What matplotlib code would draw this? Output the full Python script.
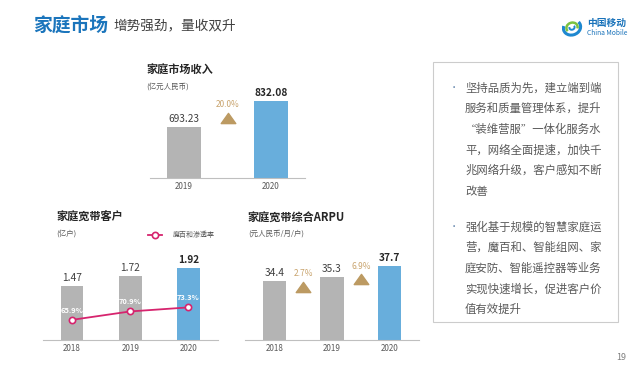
import matplotlib
matplotlib.use('Agg')
import matplotlib.pyplot as plt
from matplotlib.patches import Rectangle, Arc
from matplotlib.path import Path
from matplotlib.transforms import ScaledTranslation

plt.rcParams['font.family'] = ['Noto Sans CJK SC', 'DejaVu Sans']

# ---------------- data ----------------
rev_years = ['2019', '2020']
rev_values = [693.23, 832.08]
rev_labels = ['693.23', '832.08']
rev_growth = ['20.0%']

bb_years = ['2018', '2019', '2020']
bb_users = [1.47, 1.72, 1.92]
bb_user_labels = ['1.47', '1.72', '1.92']
mbh_rate = [65.9, 70.9, 73.3]
mbh_labels = ['65.9%', '70.9%', '73.3%']

arpu_years = ['2018', '2019', '2020']
arpu_values = [34.4, 35.3, 37.7]
arpu_labels = ['34.4', '35.3', '37.7']
arpu_growth = ['2.7%', '6.9%']

bullet1 = ['坚持品质为先，建立端到端',
           '服务和质量管理体系，提升',
           '“装维营服”一体化服务水',
           '平，网络全面提速，加快千',
           '兆网络升级，客户感知不断',
           '改善']
bullet2 = ['强化基于规模的智慧家庭运',
           '营，魔百和、智能组网、家',
           '庭安防、智能遥控器等业务',
           '实现快速增长，促进客户价',
           '值有效提升']

# ---------------- style ----------------
GRAY = '#B4B4B4'
BLUE = '#68AEDC'
GOLD = '#BC9A62'
GOLDTXT = '#C9A46E'
PINK = '#D6246E'
TXT = '#404040'
SUB = '#595959'
AXC = '#BFBFBF'
TITLE_BLUE = '#1B75BC'

W, H = 640, 370
fig = plt.figure(figsize=(6.4, 3.7), dpi=100)


def px_rect(x0, y0, x1, y1):
    return [x0 / W, 1 - y1 / H, (x1 - x0) / W, (y1 - y0) / H]


def ftext(x, y, s, **kw):
    kw.setdefault('va', 'center')
    fig.text(x / W, 1 - y / H, s, **kw)


def style_ax(ax, xlim, ylim, labels):
    ax.set_xlim(xlim)
    ax.set_ylim(ylim)
    for s in ['top', 'right', 'left']:
        ax.spines[s].set_visible(False)
    ax.spines['bottom'].set_color(AXC)
    ax.spines['bottom'].set_linewidth(0.8)
    ax.set_yticks([])
    ax.set_xticks(range(len(labels)), labels)
    ax.tick_params(axis='x', length=0, pad=3.0, labelsize=5.8, labelcolor=SUB)
    ax.patch.set_alpha(0)


def bar_colors(n):
    return [GRAY] * (n - 1) + [BLUE]


def value_labels(ax, values, labels):
    n = len(values)
    for i, (v, l) in enumerate(zip(values, labels)):
        last = i == n - 1
        ax.annotate(l, (i, v), xytext=(0, 8), textcoords='offset pixels',
                    ha='center', va='center', fontsize=7.3,
                    color='#262626' if last else TXT,
                    fontweight='bold' if last else 'normal')


tri = Path([(-1, -0.7), (1, -0.7), (0, 0.7), (-1, -0.7)],
           [Path.MOVETO, Path.LINETO, Path.LINETO, Path.CLOSEPOLY])


def growth_marks(ax, values, growth, tri_dy, lab_dy):
    for i, g in enumerate(growth):
        mid = (values[i] + values[i + 1]) / 2
        tr = ax.transData + ScaledTranslation(0, tri_dy / 100, fig.dpi_scale_trans)
        ax.plot([i + 0.5], [mid], marker=tri, ms=10.5, color=GOLD,
                linestyle='none', transform=tr, clip_on=False)
        ax.annotate(g, (i + 0.5, mid), xytext=(0, lab_dy), textcoords='offset pixels',
                    ha='center', va='center', fontsize=6, color=GOLDTXT)


# ---------------- header ----------------
ftext(33, 25.5, '家庭市场', fontsize=13.5, fontweight='bold', color=TITLE_BLUE)
ftext(113, 25.5, '增势强劲，量收双升', fontsize=9.8, color=TXT)

# logo
lax = fig.add_axes(px_rect(561, 17, 583, 38))
lax.set_xlim(-1.2, 1.2)
lax.set_ylim(-1.2, 1.2)
lax.set_aspect('equal')
lax.axis('off')
lax.add_patch(Arc((0, 0), 2.0, 1.7, angle=20, theta1=150, theta2=20, color='#1E88D0', lw=2.2))
lax.add_patch(Arc((0, 0), 1.3, 1.1, angle=20, theta1=330, theta2=200, color='#7CC242', lw=1.8))
lax.add_patch(Arc((0, 0), 0.6, 0.5, angle=20, theta1=150, theta2=20, color='#1E88D0', lw=1.4))
ftext(587, 23, '中国移动', fontsize=7, fontweight='bold', color='#1A73BA')
ftext(587, 33, 'China Mobile', fontsize=4.8, color='#1A73BA')

# ---------------- chart 1: household revenue ----------------
ftext(146.5, 70, '家庭市场收入', fontsize=8, fontweight='bold', color='#262626')
ftext(146.5, 87, '(亿元人民币)', fontsize=5.4, color=SUB)
ax1 = fig.add_axes(px_rect(150.1, 85, 305, 178))
style_ax(ax1, (-0.39, 1.39), (420, 917.6), rev_years)
ax1.bar(range(len(rev_values)), rev_values, width=0.39, color=bar_colors(len(rev_values)))
value_labels(ax1, rev_values, rev_labels)
growth_marks(ax1, rev_values, rev_growth, tri_dy=-4, lab_dy=9)

# ---------------- chart 2: broadband customers ----------------
ftext(56.5, 217.5, '家庭宽带客户', fontsize=8, fontweight='bold', color='#262626')
ftext(56.5, 234, '(亿户)', fontsize=5.4, color=SUB)
ax2 = fig.add_axes(px_rect(42.9, 250, 217.5, 340))
style_ax(ax2, (-0.5, 2.5), (0.142, 2.359), bb_years)
ax2.bar(range(len(bb_users)), bb_users, width=0.395, color=bar_colors(len(bb_users)))
value_labels(ax2, bb_users, bb_user_labels)
ax2t = ax2.twinx()
ax2t.set_ylim(53.93, 107.4)
ax2t.axis('off')
ax2t.plot(range(len(mbh_rate)), mbh_rate, color=PINK, lw=1.3, marker='o', ms=4.5,
          mfc='white', mec=PINK, mew=1.2, label='魔百和渗透率')
for i, (v, l) in enumerate(zip(mbh_rate, mbh_labels)):
    ax2t.annotate(l, (i, v), xytext=(0, 9.5), textcoords='offset pixels',
                  ha='center', va='center', fontsize=5.4, color='white', fontweight='bold')
leg = ax2t.legend(loc='center left', bbox_to_anchor=(148 / W, 1 - 235 / H),
                  bbox_transform=fig.transFigure, frameon=False, fontsize=5,
                  handlelength=2.0, handletextpad=1.6, borderpad=0, borderaxespad=0)
for t in leg.get_texts():
    t.set_color(SUB)

# ---------------- chart 3: ARPU ----------------
ftext(248, 218, '家庭宽带综合ARPU', fontsize=8, fontweight='bold', color='#262626')
ftext(248, 234, '(元人民币/月/户)', fontsize=5.4, color=SUB)
ax3 = fig.add_axes(px_rect(245.3, 250, 418.7, 340))
style_ax(ax3, (-0.5, 2.5), (20.915, 41.35), arpu_years)
ax3.bar(range(len(arpu_values)), arpu_values, width=0.4, color=bar_colors(len(arpu_values)))
value_labels(ax3, arpu_values, arpu_labels)
growth_marks(ax3, arpu_values, arpu_growth, tri_dy=-8, lab_dy=5)

# ---------------- text box ----------------
fig.patches.append(Rectangle((433 / W, 1 - 322 / H), (618 - 433) / W, (322 - 62) / H,
                             transform=fig.transFigure, fill=False, ec='#CCCCCC', lw=0.8))
step = 20.7
for block, y0 in ((bullet1, 87.7), (bullet2, 226.7)):
    ftext(454, y0, '•', fontsize=6, color='#5B7FA8', ha='center')
    for k, line in enumerate(block):
        ftext(465, y0 + k * step, line, fontsize=8.2, color=SUB)

# page number
ftext(621, 357, '19', fontsize=6.5, color='#7F7F7F', ha='center')

fig.savefig('out.png', dpi=100)
